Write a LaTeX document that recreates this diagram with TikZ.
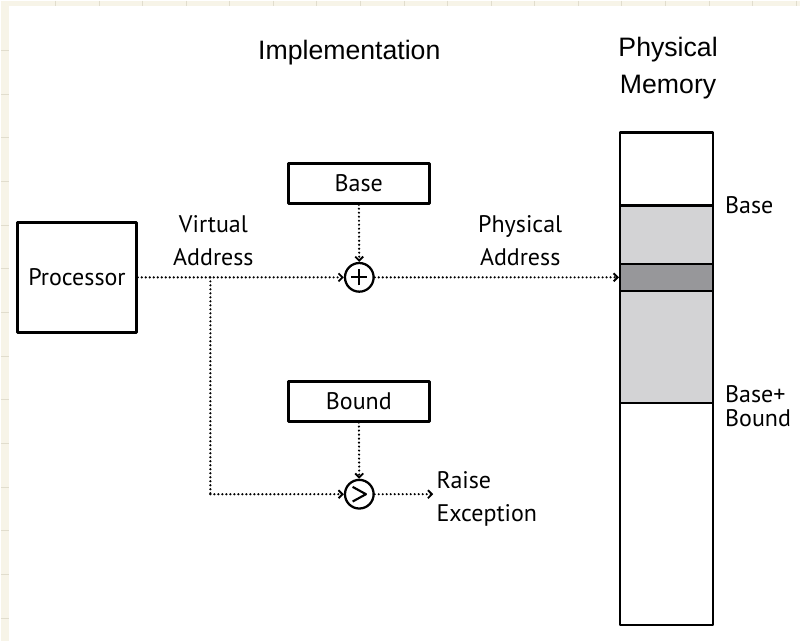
\documentclass[tikz,border=0pt]{standalone}
\usepackage{fontspec}
\setmainfont{PT Sans}
\newfontfamily\headfont{Liberation Sans}
\usetikzlibrary{arrows.meta,positioning}
\definecolor{paper}{HTML}{F7F4E8}
\definecolor{rule}{HTML}{E1DDCD}
\definecolor{used}{HTML}{D3D3D5}
\definecolor{hit}{HTML}{97979A}
\tikzset{
  reg/.style={draw, line width=2pt, minimum width=105.75pt, minimum height=30pt, inner sep=0pt},
  op/.style={draw, circle, line width=1.7pt, minimum size=21.5pt, inner sep=0pt},
  plus/.style={op, path picture={\draw[line width=1.6pt]
      ([xshift=-6pt]path picture bounding box.center) -- ([xshift=6pt]path picture bounding box.center)
      ([yshift=-6pt]path picture bounding box.center) -- ([yshift=6pt]path picture bounding box.center);}},
  greater/.style={op, path picture={\draw[line width=1.6pt]
      ([shift={(-5pt,5.5pt)}]path picture bounding box.center) -- ([xshift=5pt]path picture bounding box.center)
      -- ([shift={(-5pt,-5.5pt)}]path picture bounding box.center);}},
  wire/.style={line width=1.8pt, dash pattern=on 0pt off 3pt, line cap=round},
  flow/.style={wire, -{Straight Barb[length=3pt,width=6pt,line width=1.4pt]}},
  head/.style={font=\headfont\fontsize{20}{27.75}\selectfont, align=center, inner sep=0pt},
  lbl/.style={font=\fontsize{18}{24.75}\selectfont, align=center, inner sep=0pt},
  cell/.style={draw, line width=1.8pt, minimum width=69.75pt, inner sep=0pt}
}
\begin{document}
\begin{tikzpicture}[x=0.75pt, y=-0.75pt, font=\fontsize{18}{18}\selectfont, line join=round]
  % page
  \fill[paper] (0,0) rectangle (800,641);
  \fill[white] (8,5) rectangle (800,641);
  \foreach \x in {55,98.6,...,800} \draw[rule, line width=0.8pt] (\x,0) -- (\x,5);
  \foreach \y in {50,93.7,...,641} \draw[rule, line width=0.8pt] (0,\y) -- (8,\y);
  \useasboundingbox (0,0) rectangle (800,641);
  % headings
  \node[head, anchor=base] (I) at (349,59) {Implementation};
  \node[head] (H) at (668,68) {Physical\\Memory};
  % units
  \node[draw, line width=2pt, minimum width=89.25pt, minimum height=82.5pt, inner sep=0pt] (P) at (76.5,277) {Processor};
  \node[reg] (B) at (358.5,183) {Base};
  \node[reg] (L) at (358.5,401) {Bound};
  \node[plus] (S) at (359,277) {};
  \node[greater] (G) at (359,494) {};
  % memory
  \node[cell, fill=used, minimum height=148.5pt] (U) at (666.5,304) {};
  \node[cell, fill=hit, minimum height=20.25pt] (K) at (666.5,277) {};
  \node[cell, line width=2pt, minimum height=369.75pt] (M) at (666.5,378.5) {};
  \node[lbl, anchor=west] (T) at (U.north east) [xshift=8pt, yshift=-1pt] {Base};
  \node[lbl, font=\fontsize{18}{18}\selectfont, align=left, anchor=west] (E) at (U.south east) [xshift=8pt, yshift=-1pt] {Base+\\Bound};
  % labels
  \node[lbl] (V) at (213,240) {Virtual\\Address};
  \node[lbl] (A) at (520,240) {Physical\\Address};
  \node[lbl, align=left, anchor=west] (R) at (436,499) {Raise\\Exception};
  % paths
  \coordinate (C1) at (210,277);
  \coordinate (C2) at (210,494);
  \coordinate (X) at (433,494);
  \draw[flow] (P) -- (S);
  \draw[wire] (C1) -- (C2);
  \draw[flow] (C2) -- (G);
  \draw[flow] (B) -- (S);
  \draw[flow] (L) -- (G);
  \draw[flow] (S) -- (K.west);
  \draw[flow] (G) -- (X);
\end{tikzpicture}
\end{document}
